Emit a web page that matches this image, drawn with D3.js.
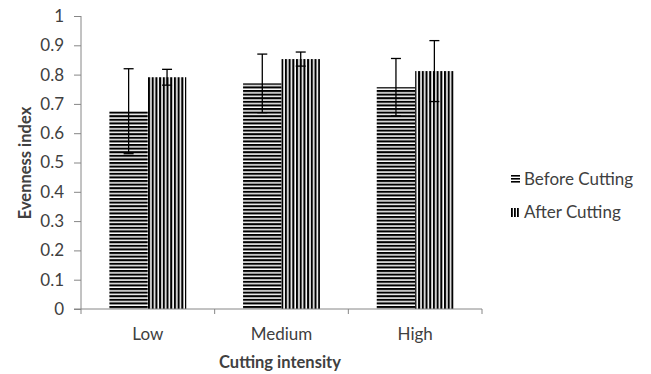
<!DOCTYPE html>
<html><head><meta charset="utf-8">
<script src="https://cdn.jsdelivr.net/npm/d3@7"></script>
<style>body{margin:0;background:#fff}svg{display:block}text{font-family:Lato,"Open Sans",sans-serif;fill:#404040}</style>
</head><body><svg id="c" width="651" height="374"></svg>
<script>
const categories = ["Low", "Medium", "High"];
const seriesNames = ["Before Cutting", "After Cutting"];
const beforeValues = [0.675, 0.770, 0.757];
const afterValues = [0.791, 0.853, 0.812];
const beforeErrors = [0.145, 0.100, 0.098];
const afterErrors = [0.027, 0.024, 0.104];
const yTicks = [0, 0.1, 0.2, 0.3, 0.4, 0.5, 0.6, 0.7, 0.8, 0.9, 1];

const svg = d3.select("#c");
const m = {l: 81, r: 482, t: 16, b: 309};
const x = d3.scaleBand().domain(categories).range([m.l, m.r]).paddingInner(0.425).paddingOuter(0.2125);
const xs = d3.scaleBand().domain(seriesNames).range([0, x.bandwidth()]);
const y = d3.scaleLinear().domain([0, 1]).range([m.b, m.t]);

const defs = svg.append("defs");
const ph = defs.append("pattern").attr("id", "ph").attr("patternUnits", "userSpaceOnUse").attr("width", 8).attr("height", 3.6);
ph.append("rect").attr("width", 8).attr("height", 3.6).attr("fill", "#fff");
ph.append("rect").attr("width", 8).attr("height", 2.1).attr("fill", "#000");
const pv = defs.append("pattern").attr("id", "pv").attr("patternUnits", "userSpaceOnUse").attr("width", 3.7).attr("height", 8);
pv.append("rect").attr("width", 3.7).attr("height", 8).attr("fill", "#fff");
pv.append("rect").attr("width", 2.1).attr("height", 8).attr("fill", "#000");
const fills = {"Before Cutting": "url(#ph)", "After Cutting": "url(#pv)"};

const data = [];
categories.forEach((c, i) => {
  data.push({c, s: seriesNames[0], v: beforeValues[i], e: beforeErrors[i]});
  data.push({c, s: seriesNames[1], v: afterValues[i], e: afterErrors[i]});
});

svg.selectAll("rect.bar").data(data).join("rect").attr("class", "bar")
  .attr("x", d => x(d.c) + xs(d.s)).attr("width", xs.bandwidth())
  .attr("y", d => y(d.v)).attr("height", d => y(0) - y(d.v))
  .attr("fill", d => fills[d.s]);

// axes
const yAxis = d3.axisLeft(y).tickValues(yTicks).tickSize(7).tickPadding(10).tickFormat(d3.format("~g"));
const gy = svg.append("g").attr("transform", `translate(${m.l},0)`).call(yAxis);
gy.select(".domain").attr("stroke", "#868686").attr("d", `M0,${m.t}V${m.b + 5}`);
gy.selectAll(".tick line").attr("stroke", "#868686");
gy.selectAll(".tick text").style("font-size", "17px").attr("fill", "#404040").style("font-family", "Lato");

const gx = svg.append("g");
gx.append("line").attr("x1", m.l - 7).attr("x2", m.r).attr("y1", y(0)).attr("y2", y(0)).attr("stroke", "#868686");
const step = x.step();
[1, 2, 3].forEach(k => {
  gx.append("line").attr("x1", m.l + k * step).attr("x2", m.l + k * step).attr("y1", y(0)).attr("y2", y(0) + 5).attr("stroke", "#868686");
});
gx.selectAll("text.cat").data(categories).join("text").attr("class", "cat")
  .attr("x", d => x(d) + x.bandwidth() / 2).attr("y", 339.5).attr("text-anchor", "middle")
  .style("font-size", "17px").text(d => d);

// error bars
const eg = svg.append("g").attr("stroke", "#000").attr("stroke-width", 1.3);
data.forEach(d => {
  const cx = x(d.c) + xs(d.s) + xs.bandwidth() / 2;
  eg.append("line").attr("x1", cx).attr("x2", cx).attr("y1", y(d.v + d.e)).attr("y2", y(d.v - d.e));
  eg.append("line").attr("x1", cx - 5).attr("x2", cx + 5).attr("y1", y(d.v + d.e)).attr("y2", y(d.v + d.e));
  eg.append("line").attr("x1", cx - 5).attr("x2", cx + 5).attr("y1", y(d.v - d.e)).attr("y2", y(d.v - d.e));
});

// titles
svg.append("text").attr("x", 280).attr("y", 368).attr("text-anchor", "middle")
  .style("font-size", "16.5px").style("font-weight", "bold").attr("fill", "#000").text("Cutting intensity");
svg.append("text").attr("transform", `translate(31,163) rotate(-90)`).attr("text-anchor", "middle")
  .style("font-size", "16.5px").style("font-weight", "bold").attr("fill", "#000").text("Evenness index");

// legend
const lg = svg.append("g");
seriesNames.forEach((s, i) => {
  const ly = 179 + i * 33;
  const gi = lg.append("g");
  if (i === 0) {
    [0, 3, 6].forEach(o => gi.append("rect").attr("x", 511).attr("y", ly - 4 + o).attr("width", 9).attr("height", 1.6).attr("fill", "#000"));
  } else {
    [0, 3, 6].forEach(o => gi.append("rect").attr("x", 511 + o).attr("y", ly - 4).attr("width", 1.8).attr("height", 9).attr("fill", "#000"));
  }
  lg.append("text").attr("x", 524).attr("y", ly + 6).style("font-size", "17px").text(s);
});
</script></body></html>
